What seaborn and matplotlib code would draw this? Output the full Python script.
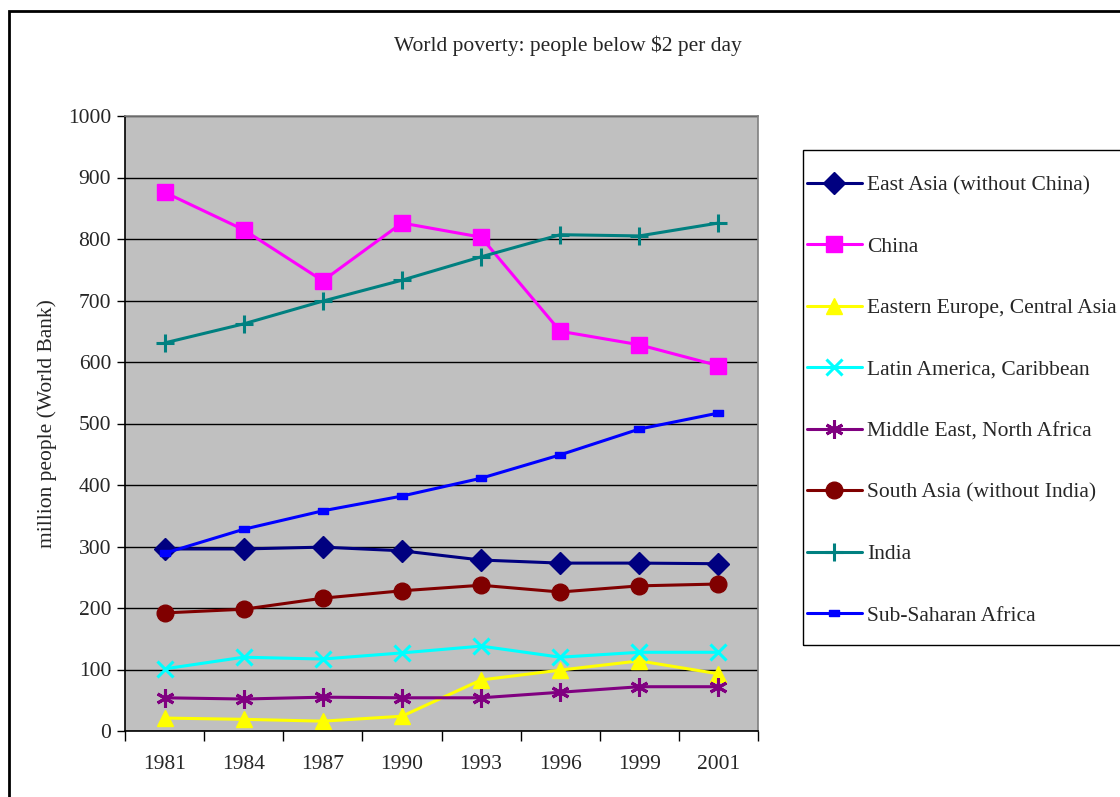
import numpy as np
import pandas as pd
import matplotlib
matplotlib.use("Agg")
import matplotlib.pyplot as plt
from matplotlib.patches import Rectangle
import seaborn as sns

years = ["1981", "1984", "1987", "1990", "1993", "1996", "1999", "2001"]

east_asia = [296, 296, 299, 293, 278, 273, 273, 272]
china = [876, 815, 732, 826, 803, 650, 628, 594]
eastern_europe = [21, 19, 16, 24, 83, 99, 114, 93]
latin_america = [101, 120, 117, 127, 138, 120, 128, 128]
middle_east = [54, 52, 55, 54, 54, 63, 72, 72]
south_asia = [192, 198, 216, 228, 237, 226, 236, 239]
india = [631, 662, 699, 733, 771, 807, 805, 826]
sub_saharan = [289, 328, 358, 382, 411, 449, 491, 517]

# flat rectangle marker for the Sub-Saharan series
dash_marker = [(-1, -0.55), (1, -0.55), (1, 0.55), (-1, 0.55), (-1, -0.55)]

series = [
    ("East Asia (without China)", east_asia, "#000080", "D", 11),
    ("China", china, "#FF00FF", "s", 12),
    ("Eastern Europe, Central Asia", eastern_europe, "#FFFF00", "^", 12),
    ("Latin America, Caribbean", latin_america, "#00FFFF", "x", 12),
    ("Middle East, North Africa", middle_east, "#800080", (6, 2, 0), 13),
    ("South Asia (without India)", south_asia, "#800000", "o", 12),
    ("India", india, "#008080", "+", 13),
    ("Sub-Saharan Africa", sub_saharan, "#0000FF", dash_marker, 7),
]

FS = 15.5

sns.set_theme(style="white")
plt.rcParams["font.family"] = ["Liberation Serif", "DejaVu Serif"]
plt.rcParams["font.size"] = FS

fig = plt.figure(figsize=(11.2, 7.97), dpi=100)
ax = fig.add_axes([125 / 1120, 1 - 731 / 797, (758 - 125) / 1120, (731 - 116) / 797])
ax.set_facecolor("#C0C0C0")

pos = np.arange(len(years))
for name, vals, color, marker, ms in series:
    df = pd.DataFrame({"x": pos, "y": vals})
    mew = 2.2 if marker in ("x", "+") or (isinstance(marker, tuple)) else 1
    sns.lineplot(data=df, x="x", y="y", ax=ax, color=color, linewidth=2.2,
                 marker=marker, markersize=ms, markeredgecolor=color,
                 markerfacecolor=color, markeredgewidth=mew, label=name)

ax.set_xlim(-0.5, len(years) - 0.5)
ax.set_ylim(0, 1000)
ax.set_yticks(np.arange(0, 1001, 100))
ax.grid(axis="y", color="black", linewidth=1)
ax.set_axisbelow(True)

ax.set_xticks(np.arange(-0.5, len(years), 1.0))
ax.set_xticklabels([])
ax.set_xticks(pos, minor=True)
ax.set_xticklabels(years, minor=True)
ax.tick_params(axis="x", which="major", direction="out", length=7, width=1, color="black", bottom=True)
ax.tick_params(axis="x", which="minor", length=0, pad=17, labelsize=FS)
ax.tick_params(axis="y", direction="out", length=6, width=1, color="black", left=True, labelsize=FS, pad=4)

for side in ("left", "bottom"):
    ax.spines[side].set_color("black")
    ax.spines[side].set_linewidth(1.2)
for side in ("top", "right"):
    ax.spines[side].set_color("#808080")
    ax.spines[side].set_linewidth(1.2)

ax.set_xlabel("")
ax.set_ylabel("million people (World Bank)", fontsize=FS, labelpad=8)

ax.get_legend().remove()
handles, labels = ax.get_legend_handles_labels()
leg = fig.legend(handles, labels, loc="upper left",
                 bbox_to_anchor=(807 / 1120, 1 - 175 / 797),
                 frameon=False, fontsize=FS,
                 labelspacing=1.925, handlelength=2.55, handletextpad=0.25,
                 borderpad=0, borderaxespad=0)

# legend box, running off the right edge of the canvas
fig.patches.append(Rectangle((803 / 1120, 1 - 645 / 797), 0.4, (645 - 150) / 797,
                             transform=fig.transFigure, fill=False,
                             edgecolor="black", linewidth=1))

fig.text(568 / 1120, 1 - 46 / 797, "World poverty: people below \\$2 per day",
         ha="center", va="center", fontsize=FS)

# outer chart border
fig.patches.append(Rectangle((9 / 1120, -0.1), 1.2, 1 - 11 / 797 + 0.1,
                             transform=fig.transFigure, fill=False,
                             edgecolor="black", linewidth=2))

fig.savefig("out.png", dpi=100)
